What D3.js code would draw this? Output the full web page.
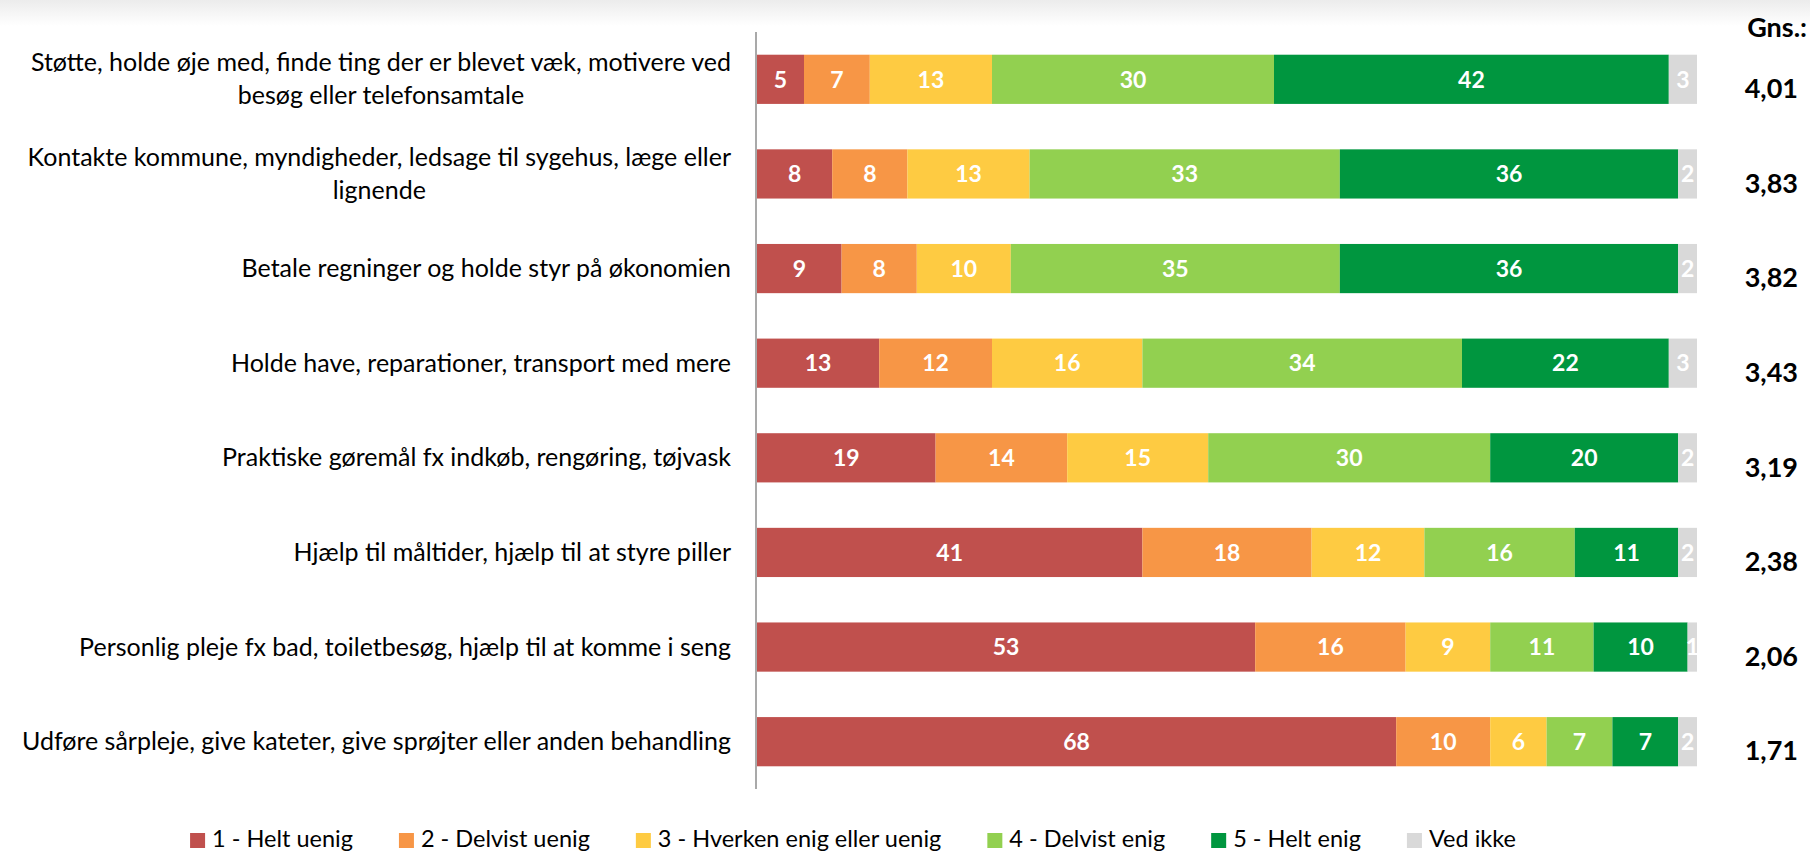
<!DOCTYPE html>
<html>
<head>
    <meta charset="utf-8">
    <title>Hjælp fra pårørende</title>
    <script src="https://d3js.org/d3.v7.min.js"></script>
    <style>
        body {
            margin: 0;
            background: #fff;
            font-family: Lato, "Open Sans", sans-serif;
        }

        svg {
            display: block;
        }
    </style>
</head>
<body>
    <svg id="chart" width="1810" height="851"></svg>
    <script>
        // categories, each line of the label split with \n like in the original
        var categories = [
            "Støtte, holde øje med, finde ting der er blevet væk, motivere ved\nbesøg eller telefonsamtale",
            "Kontakte kommune, myndigheder, ledsage til sygehus, læge eller\nlignende",
            "Betale regninger og holde styr på økonomien",
            "Holde have, reparationer, transport med mere",
            "Praktiske gøremål fx indkøb, rengøring, tøjvask",
            "Hjælp til måltider, hjælp til at styre piller",
            "Personlig pleje fx bad, toiletbesøg, hjælp til at komme i seng",
            "Udføre sårpleje, give kateter, give sprøjter eller anden behandling"
        ];

        var seriesNames = ["1 - Helt uenig", "2 - Delvist uenig", "3 - Hverken enig eller uenig",
            "4 - Delvist enig", "5 - Helt enig", "Ved ikke"];

        var heltUenig = [5, 8, 9, 13, 19, 41, 53, 68];
        var delvistUenig = [7, 8, 8, 12, 14, 18, 16, 10];
        var hverken = [13, 13, 10, 16, 15, 12, 9, 6];
        var delvistEnig = [30, 33, 35, 34, 30, 16, 11, 7];
        var heltEnig = [42, 36, 36, 22, 20, 11, 10, 7];
        var vedIkke = [3, 2, 2, 3, 2, 2, 1, 2];

        var gennemsnit = [4.01, 3.83, 3.82, 3.43, 3.19, 2.38, 2.06, 1.71];

        var colors = ["#C0504D", "#F79646", "#FECB42", "#92D050", "#00963F", "#D9D9D9"];

        var series = [heltUenig, delvistUenig, hverken, delvistEnig, heltEnig, vedIkke];

        var rows = categories.map(function (c, i) {
            var r = { cat: c };
            seriesNames.forEach(function (s, j) { r[s] = series[j][i]; });
            return r;
        });

        var stacked = d3.stack().keys(seriesNames)(rows);

        var svg = d3.select("#chart");

        // faint grey band at the top edge
        var grad = svg.append("defs").append("linearGradient")
            .attr("id", "topfade").attr("x1", 0).attr("y1", 0).attr("x2", 0).attr("y2", 1);
        grad.append("stop").attr("offset", 0).attr("stop-color", "#ececec");
        grad.append("stop").attr("offset", 1).attr("stop-color", "#ffffff");
        svg.append("rect").attr("width", 1810).attr("height", 26).attr("fill", "url(#topfade)");

        var x = d3.scaleLinear().domain([0, 100]).range([757, 1697]);
        var y = d3.scaleBand().domain(categories).range([32, 789])
            .paddingInner(0.48).paddingOuter(0.24);
        var color = d3.scaleOrdinal().domain(seriesNames).range(colors);

        // bars
        var layer = svg.append("g").selectAll("g")
            .data(stacked)
            .join("g")
            .attr("fill", function (d) { return color(d.key); });

        layer.selectAll("rect")
            .data(function (d) { return d; })
            .join("rect")
            .attr("x", function (d) { return x(d[0]); })
            .attr("y", function (d) { return y(d.data.cat); })
            .attr("width", function (d) { return x(d[1]) - x(d[0]); })
            .attr("height", y.bandwidth());

        // value labels
        layer.selectAll("text")
            .data(function (d) { return d; })
            .join("text")
            .attr("x", function (d) { return (x(d[0]) + x(d[1])) / 2; })
            .attr("y", function (d) { return y(d.data.cat) + y.bandwidth() / 2 + 8.3; })
            .attr("text-anchor", "middle")
            .attr("fill", "#fff")
            .attr("font-weight", "bold")
            .attr("font-size", 23)
            .text(function (d) { return d[1] - d[0]; });

        // vertical axis line
        svg.append("line")
            .attr("x1", 756).attr("x2", 756)
            .attr("y1", 32).attr("y2", 789)
            .attr("stroke", "#8c8c8c").attr("stroke-width", 1.5);

        // category labels, block right aligned, lines centred inside the block
        var lineH = 33;
        var labels = svg.append("g").selectAll("g")
            .data(categories)
            .join("g");

        labels.each(function (c) {
            var g = d3.select(this);
            var lines = c.split("\n");
            var cy = y(c) + y.bandwidth() / 2;
            var texts = lines.map(function (l, i) {
                return g.append("text")
                    .attr("font-size", 25)
                    .attr("fill", "#000")
                    .attr("text-anchor", "middle")
                    .attr("y", cy + 8.5 + (i - (lines.length - 1) / 2) * lineH)
                    .text(l);
            });
            var w = d3.max(texts, function (t) { return t.node().getComputedTextLength(); });
            texts.forEach(function (t) { t.attr("x", 731 - w / 2); });
        });

        // averages
        var fmt = function (v) { return d3.format(".2f")(v).replace(".", ","); };
        svg.append("text")
            .attr("x", 1807).attr("y", 37)
            .attr("text-anchor", "end")
            .attr("font-weight", "bold")
            .attr("font-size", 27)
            .text("Gns.:");

        svg.append("g").selectAll("text")
            .data(gennemsnit)
            .join("text")
            .attr("x", 1798)
            .attr("y", function (d, i) { return y(categories[i]) + y.bandwidth() / 2 + 9 + 9.7; })
            .attr("text-anchor", "end")
            .attr("font-weight", "bold")
            .attr("font-size", 27)
            .text(fmt);

        // legend
        var gap = 46;
        var legend = svg.append("g");
        var lx = 0;
        seriesNames.forEach(function (s) {
            var it = legend.append("g").attr("transform", "translate(" + lx + ",0)");
            it.append("rect").attr("x", 0).attr("y", 833).attr("width", 15).attr("height", 15)
                .attr("fill", color(s));
            var t = it.append("text").attr("x", 22).attr("y", 847)
                .attr("font-size", 23.5).attr("fill", "#000").text(s);
            lx += 22 + t.node().getComputedTextLength() + gap;
        });
        var legendW = lx - gap;
        legend.attr("transform", "translate(" + (853 - legendW / 2) + ",0)");
    </script>
</body>
</html>
